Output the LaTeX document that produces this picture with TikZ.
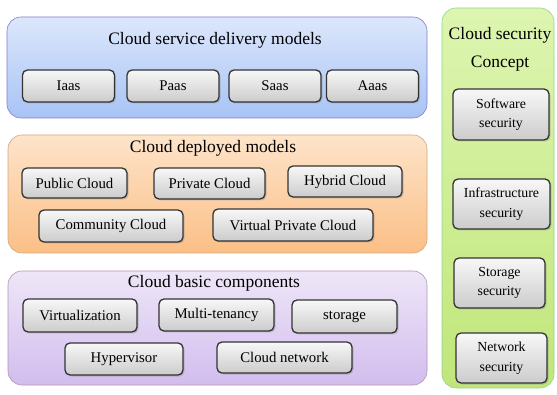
\documentclass[tikz,border=0pt]{standalone}
\usepackage{fontspec}
\setmainfont{Liberation Serif}
\usetikzlibrary{shadows}

\definecolor{bluetop}{HTML}{DCE7FB}
\definecolor{bluebot}{HTML}{A8C3F5}
\definecolor{orangetop}{HTML}{FDE4CA}
\definecolor{orangebot}{HTML}{FBBF86}
\definecolor{purpletop}{HTML}{EEE6F8}
\definecolor{purplebot}{HTML}{D2BDEE}
\definecolor{greentop}{HTML}{DDF5B0}
\definecolor{greenbot}{HTML}{C0E67A}

\begin{document}
\begin{tikzpicture}[x=1pt, y=-1pt,
    panel/.style={draw, line width=0.6pt, rounded corners=14pt, inner sep=0pt},
    item/.style={draw=black!80, line width=1.3pt, rounded corners=5pt,
        top color=gray!6, bottom color=gray!40, inner sep=0pt,
        drop shadow={opacity=0.35, shadow xshift=1.5pt, shadow yshift=-1.5pt},
        font=\rmfamily\fontsize{14.8}{16}\selectfont},
    secitem/.style={item, align=center, font=\rmfamily\fontsize{13.8}{19.5}\selectfont},
    title/.style={font=\rmfamily\fontsize{17.5}{20}\selectfont}]

    \useasboundingbox (0,0) rectangle (557,395);

    % Draw the panels
    \node[panel, draw=blue!45!gray!70, top color=bluetop, bottom color=bluebot,
        minimum width=420, minimum height=101] (service) at (217,67.5) {};
    \node[panel, draw=orange!50!gray!70, top color=orangetop, bottom color=orangebot,
        minimum width=419, minimum height=118] (deploy) at (217.5,194) {};
    \node[panel, draw=violet!40!gray!60, top color=purpletop, bottom color=purplebot,
        minimum width=419, minimum height=114] (basic) at (217.5,328) {};
    \node[panel, draw=green!45!gray!60, top color=greentop, bottom color=greenbot,
        minimum width=112, minimum height=380] (security) at (498,198) {};

    % Panel titles
    \node[title] (servicetitle) at (215,40) {Cloud service delivery models};
    \node[title] (deploytitle) at (213,148) {Cloud deployed models};
    \node[title] (basictitle) at (214,283) {Cloud basic components};
    \node[title, align=center, font=\rmfamily\fontsize{17.5}{28}\selectfont]
        (securitytitle) at (500,49) {Cloud security\\Concept};

    % Service delivery models
    \foreach \name/\cx in {Iaas/68.5, Paas/173, Saas/275, Aaas/372.5} {
        \node[item, minimum width=92, minimum height=32] (\name) at (\cx,86) {\name};
    }

    % Deployed models
    \node[item, minimum width=105, minimum height=30] (public) at (74.5,183) {Public Cloud};
    \node[item, minimum width=111, minimum height=31] (private) at (209.5,183.5) {Private Cloud};
    \node[item, minimum width=114, minimum height=31] (hybrid) at (345,181.5) {Hybrid Cloud};
    \node[item, minimum width=144, minimum height=32] (community) at (111,226) {Community Cloud};
    \node[item, minimum width=160, minimum height=32] (vpc) at (293,225) {Virtual Private Cloud};

    % Basic components
    \node[item, minimum width=114, minimum height=33] (virt) at (80,315.5) {Virtualization};
    \node[item, minimum width=115, minimum height=32] (multi) at (216.5,315) {Multi-tenancy};
    \node[item, minimum width=105, minimum height=33] (storage) at (344.5,316.5) {storage};
    \node[item, minimum width=118, minimum height=32] (hyper) at (124,359) {Hypervisor};
    \node[item, minimum width=135, minimum height=31] (network) at (284.5,357.5) {Cloud network};

    % Security concepts
    \node[secitem, minimum width=96, minimum height=51] (softsec) at (501,114.5) {Software\\security};
    \node[secitem, minimum width=97, minimum height=50] (infrasec) at (501.5,204) {Infrastructure\\security};
    \node[secitem, minimum width=91, minimum height=50] (storsec) at (499.5,283) {Storage\\security};
    \node[secitem, minimum width=91, minimum height=50] (netsec) at (501.5,358) {Network\\security};

\end{tikzpicture}
\end{document}
